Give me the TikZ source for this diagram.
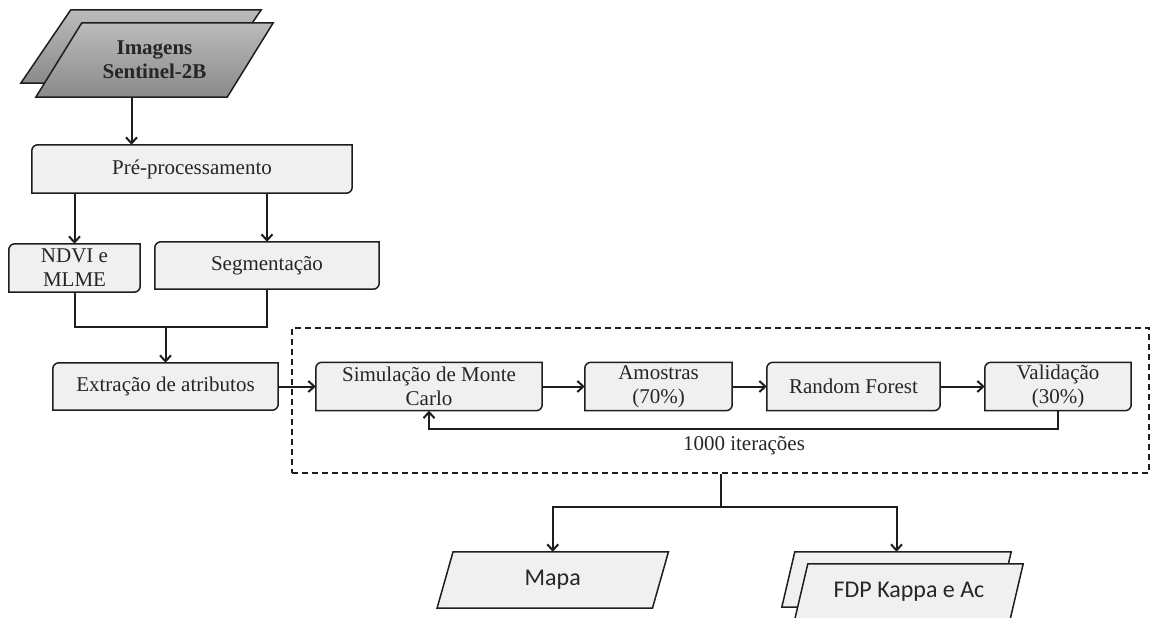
\documentclass[tikz,border=0pt]{standalone}
\usepackage{fontspec}
\setmainfont{Liberation Serif}
\newfontfamily\calibri{Carlito}
\usetikzlibrary{arrows.meta}
\pgfdeclarelayer{background}
\pgfsetlayers{background,main}
\definecolor{boxfill}{HTML}{F0F0F0}
\definecolor{lincol}{HTML}{1E1E1E}
\definecolor{txtcol}{HTML}{262626}
\definecolor{imgtop}{HTML}{BBBBBB}
\definecolor{imgbot}{HTML}{8A8A8A}
\newcommand\snipbox[1]{%
  \draw[boxline] (#1.south west) -- ([yshift=-6pt]#1.north west)
    arc[start angle=180,end angle=90,radius=6pt] -- (#1.north east)
    -- ([yshift=6pt]#1.south east)
    arc[start angle=0,end angle=-90,radius=6pt] -- cycle;}
\newcommand\parabox[3]{%
  \path[#3] ([xshift=#2]#1.north west) -- ([xshift=#2]#1.north east)
    -- ([xshift=-#2]#1.south east) -- ([xshift=-#2]#1.south west) -- cycle;}
\tikzset{
  boxline/.style={draw=lincol, line width=1.5pt, fill=boxfill},
  box/.style={draw=none, inner sep=2pt, align=center, text=txtcol,
    font=\fontsize{21}{24}\selectfont},
  sbox/.style={box, font=\calibri\fontsize{24}{28}\selectfont},
  line/.style={draw=lincol, line width=2pt},
  arr/.style={line, -{Straight Barb[length=6pt,width=11pt]}},
}
\begin{document}
\begin{tikzpicture}[x=1pt,y=-1pt]
\useasboundingbox (0,0) rectangle (1152,618);
% nodes
\node[box,minimum width=190pt,minimum height=73pt] (imgb) at (141,46.5) {};
\node[box,font=\bfseries\fontsize{21}{24}\selectfont,minimum width=191pt,minimum height=74pt] (img) at (154.5,60) {Imagens\\Sentinel-2B};
\node[box,minimum width=320pt,minimum height=48pt] (pre) at (192,169) {Pré-processamento};
\node[box,minimum width=131pt,minimum height=48pt] (ndvi) at (74.5,268) {NDVI e\\MLME};
\node[box,minimum width=224pt,minimum height=47pt] (seg) at (267,265.5) {Segmentação};
\node[box,minimum width=225pt,minimum height=47pt] (ext) at (165.5,386.5) {Extração de atributos};
\node[box,minimum width=226pt,minimum height=48pt] (sim) at (429,386.5) {Simulação de Monte\\Carlo};
\node[box,minimum width=147pt,minimum height=48pt] (amo) at (658.5,386.5) {Amostras\\(70\%)};
\node[box,minimum width=173pt,minimum height=48pt] (rf) at (853.5,386.5) {Random Forest};
\node[box,minimum width=146pt,minimum height=48pt] (val) at (1058,386.5) {Validação\\(30\%)};
\node[box] (lbl) at (744,446) {1000 iterações};
\node[draw=lincol,line width=1.4pt,dash pattern=on 6pt off 4pt,minimum width=857pt,minimum height=145pt,inner sep=0pt] (loopbox) at (720.5,400.5) {};
\node[sbox,minimum width=215pt,minimum height=56pt] (mapa) at (552.75,580) {Mapa};
\node[sbox,minimum width=216pt,minimum height=55pt] (fdpb) at (896.5,579.5) {};
\node[sbox,minimum width=215pt,minimum height=55pt] (fdp) at (909,591.5) {FDP Kappa e Ac};
% shapes
\begin{pgfonlayer}{background}
\fill[white] (0,0) rectangle (1152,618);
\parabox{imgb}{25pt}{draw=lincol,line width=1.5pt,top color=imgtop,bottom color=imgbot}
\parabox{img}{23pt}{draw=lincol,line width=1.5pt,top color=imgtop,bottom color=imgbot}
\snipbox{pre}
\snipbox{ndvi}
\snipbox{seg}
\snipbox{ext}
\snipbox{sim}
\snipbox{amo}
\snipbox{rf}
\snipbox{val}
\parabox{mapa}{8pt}{boxline}
\begin{scope}
\clip (0,0) rectangle (1152,618);
\parabox{fdpb}{6.5pt}{boxline}
\parabox{fdp}{6.5pt}{boxline}
\end{scope}
\end{pgfonlayer}
% connectors
\coordinate (imgbot) at ([xshift=-23pt]img.south);
\draw[arr] (imgbot) -- (imgbot |- pre.north);
\draw[arr] (ndvi.north |- pre.south) -- (ndvi.north);
\draw[arr] (seg.north |- pre.south) -- (seg.north);
\coordinate (merge) at (ext.north |- 0,327);
\draw[line] (ndvi.south) |- (merge) -| (seg.south);
\draw[arr] (merge) -- (ext.north);
\draw[arr] (ext.east) -- (sim.west);
\draw[arr] (sim.east) -- (amo.west);
\draw[arr] (amo.east) -- (rf.west);
\draw[arr] (rf.east) -- (val.west);
\draw[arr] (val.south) |- (sim.south |- 0,429) -- (sim.south);
\coordinate (split) at (loopbox.south |- 0,507);
\draw[line] (loopbox.south) -- (split);
\draw[arr] (split) -| (mapa.north);
\draw[arr] (split) -| (fdpb.north);
\end{tikzpicture}
\end{document}
